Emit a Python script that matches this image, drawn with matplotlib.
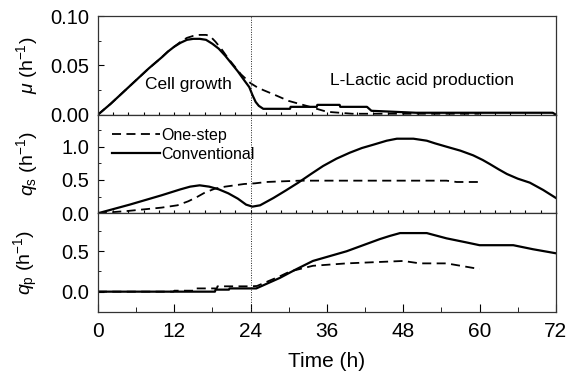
import matplotlib
matplotlib.use('Agg')
import matplotlib.pyplot as plt
from matplotlib.ticker import MultipleLocator, NullFormatter

plt.rcParams['font.family'] = ['Liberation Sans', 'DejaVu Sans']
plt.rcParams['mathtext.fontset'] = 'custom'
plt.rcParams['mathtext.rm'] = 'Liberation Sans'
plt.rcParams['mathtext.it'] = 'Liberation Sans:italic'

# specific growth rate mu (h^-1)
t_mu_conv = [0, 2, 4, 6, 8, 10, 11, 12, 13, 14, 15, 16, 17, 18, 19, 20, 21, 22, 23, 23.8, 24.3, 24.8, 25.3, 26,
             30.2, 30.3, 34.4, 34.5, 38, 38.1, 42.3, 43, 50, 60, 71.5, 72]
mu_conv = [0, 0.011, 0.023, 0.035, 0.047, 0.058, 0.064, 0.069, 0.073, 0.076, 0.077, 0.077, 0.076, 0.072, 0.067,
           0.060, 0.052, 0.044, 0.035, 0.028, 0.020, 0.013, 0.009, 0.006,
           0.006, 0.008, 0.008, 0.010, 0.010, 0.008, 0.008, 0.004, 0.002, 0.002, 0.002, 0.0]
t_mu_one = [0, 2, 4, 6, 8, 10, 11, 12, 13, 14, 15, 16, 17, 17.6, 18.5, 19.5, 20.5, 21.5, 22.5, 23.5, 24, 25, 26,
            27.5, 30, 32.8, 36, 40, 50, 60]
mu_one = [0, 0.011, 0.023, 0.035, 0.047, 0.058, 0.064, 0.069, 0.074, 0.078, 0.080, 0.081, 0.081, 0.080, 0.074,
          0.066, 0.057, 0.049, 0.041, 0.035, 0.032, 0.028, 0.025, 0.021, 0.014, 0.009, 0.003, 0.001, 0.001, 0.001]

# specific glucose consumption rate qs (h^-1)
t_qs_conv = [0, 5, 10, 13, 14.5, 16, 17.5, 19, 20.5, 22, 23.3, 24.3, 25.5, 27.6, 29.5, 31.5, 33.5, 35.4, 37.5, 39.6,
             41.5, 43.3, 45.4, 47, 49.6, 51.7, 53, 54.8, 57, 59, 60.5, 61.6, 63, 64.3, 66, 67.9, 70, 72]
qs_conv = [0, 0.13, 0.27, 0.36, 0.40, 0.42, 0.40, 0.36, 0.30, 0.22, 0.13, 0.10, 0.12, 0.23, 0.34, 0.46, 0.59, 0.71,
           0.82, 0.91, 0.98, 1.03, 1.09, 1.12, 1.12, 1.09, 1.05, 1.00, 0.94, 0.87, 0.80, 0.74, 0.66, 0.59, 0.52, 0.46,
           0.35, 0.23]
t_qs_one = [0, 4.7, 10, 12.5, 14.2, 15.5, 16.8, 18.4, 20, 21.5, 23, 24.7, 26.5, 29, 31.8, 40, 54.8, 56.4, 60]
qs_one = [0, 0.035, 0.085, 0.12, 0.18, 0.24, 0.31, 0.37, 0.40, 0.42, 0.44, 0.45, 0.47, 0.48, 0.49, 0.49, 0.49,
          0.47, 0.47]

# specific lactic acid production rate qp (h^-1)
t_qp_conv = [0, 18.4, 18.5, 20.6, 20.7, 24.9, 28.6, 31, 33.8, 39.1, 44.3, 45.9, 47.5, 51.7, 54.8, 57.9, 60, 65.3,
             68.4, 72]
qp_conv = [0, 0, 0.025, 0.025, 0.04, 0.04, 0.17, 0.27, 0.38, 0.50, 0.65, 0.69, 0.725, 0.725, 0.66, 0.61, 0.575,
           0.575, 0.525, 0.475]
t_qp_one = [0, 11.9, 12, 15.3, 15.4, 18.7, 18.8, 24, 25, 28.6, 30.2, 33.8, 39.1, 48, 50.6, 54.8, 60]
qp_one = [0, 0, 0.012, 0.012, 0.04, 0.04, 0.066, 0.066, 0.07, 0.19, 0.25, 0.32, 0.35, 0.38, 0.35, 0.35, 0.28]

fig = plt.figure(figsize=(5.69, 3.85), dpi=100)
gs = fig.add_gridspec(3, 1, left=0.172, right=0.977, top=0.958, bottom=0.19, hspace=0)
axs = [fig.add_subplot(gs[i]) for i in range(3)]

dash = (0, (5, 3))
series = [
    (t_mu_one, mu_one, t_mu_conv, mu_conv),
    (t_qs_one, qs_one, t_qs_conv, qs_conv),
    (t_qp_one, qp_one, t_qp_conv, qp_conv),
]
for ax, (t1, y1, t2, y2) in zip(axs, series):
    ax.plot(t1, y1, color='black', lw=1.3, linestyle=dash, label='One-step')
    ax.plot(t2, y2, color='black', lw=1.6, label='Conventional')
    ax.axvline(24, color='#222222', lw=0.7, linestyle=(0, (1, 1.5)))
    ax.set_xlim(0, 72)
    ax.tick_params(direction='in', which='both', labelsize=14.5, top=False, right=False)
    ax.tick_params(axis='y', pad=6)
    ax.tick_params(which='major', length=4)
    ax.tick_params(which='minor', length=2.5)
    for s in ax.spines.values():
        s.set_linewidth(0.9)
        s.set_color('#333333')

# panel 1
axs[0].set_ylim(0, 0.1)
axs[0].yaxis.set_major_locator(MultipleLocator(0.05))
axs[0].yaxis.set_minor_locator(MultipleLocator(0.025))
axs[0].yaxis.set_major_formatter(plt.FormatStrFormatter('%.2f'))
axs[0].set_ylabel(r'$\mu$ (h$^{-1}$)', fontsize=14)
axs[0].text(14.2, 0.031, 'Cell growth', ha='center', va='center', fontsize=12.5)
axs[0].text(51, 0.035, 'L-Lactic acid production', ha='center', va='center', fontsize=12.5)

# panel 2
axs[1].set_ylim(0, 1.48)
axs[1].yaxis.set_major_locator(MultipleLocator(0.5))
axs[1].yaxis.set_minor_locator(MultipleLocator(0.25))
axs[1].yaxis.set_major_formatter(plt.FormatStrFormatter('%.1f'))
axs[1].set_ylabel(r'$q_{\rm s}$ (h$^{-1}$)', fontsize=14)
axs[1].legend(loc='upper left', bbox_to_anchor=(0.01, 0.965), frameon=False, fontsize=11.5,
              handlelength=3.0, handletextpad=0.1, labelspacing=0.25, borderaxespad=0.2)

# panel 3
axs[2].set_ylim(-0.25, 0.97)
axs[2].yaxis.set_major_locator(MultipleLocator(0.5))
axs[2].yaxis.set_minor_locator(MultipleLocator(0.25))
axs[2].yaxis.set_major_formatter(plt.FormatStrFormatter('%.1f'))
axs[2].set_ylabel(r'$q_{\rm p}$ (h$^{-1}$)', fontsize=14)
axs[2].xaxis.set_major_locator(MultipleLocator(12))
axs[2].xaxis.set_minor_locator(MultipleLocator(6))
axs[2].tick_params(axis='x', which='major', length=6, pad=7, labelsize=15)
axs[2].tick_params(axis='x', which='minor', length=3.5)
axs[2].set_xlabel('Time (h)', fontsize=15, labelpad=8)

for ax in axs[:2]:
    ax.xaxis.set_major_locator(MultipleLocator(2.4))
    ax.xaxis.set_minor_locator(plt.NullLocator())
    ax.xaxis.set_major_formatter(NullFormatter())
    ax.tick_params(axis='x', which='major', length=2.5)

for ax in axs:
    ax.yaxis.set_label_coords(-0.127, 0.5)

fig.savefig('out.png', dpi=100)
